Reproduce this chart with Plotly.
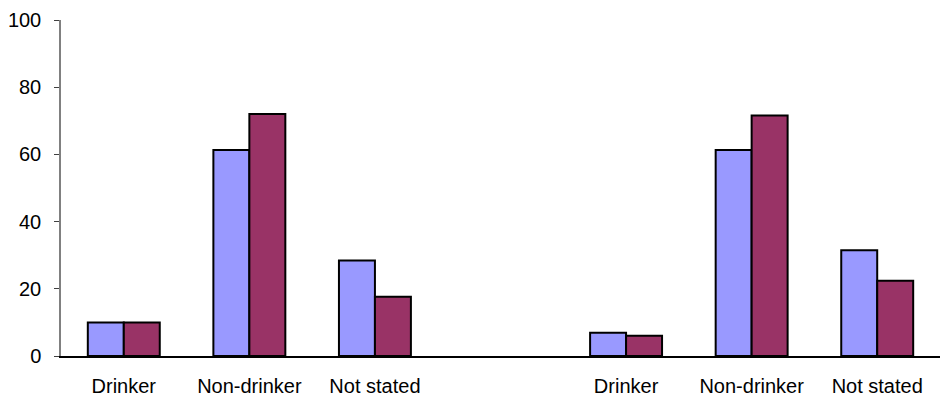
import plotly.graph_objects as go

# Drinking status, two panels of three categories each (percent)
categories = ["Drinker", "Non-drinker", "Not stated"]
panel_a_series1 = [10, 61.3, 28.4]
panel_a_series2 = [10, 72.0, 17.6]
panel_b_series1 = [6.9, 61.3, 31.5]
panel_b_series2 = [6.0, 71.6, 22.4]
y_ticks = [0, 20, 40, 60, 80, 100]

# Place the two panels side by side with one empty slot between them
n = len(categories)
positions = list(range(n)) + [n + 1 + i for i in range(n)]
labels = categories + categories
series1 = panel_a_series1 + panel_b_series1
series2 = panel_a_series2 + panel_b_series2

fig = go.Figure()
fig.add_trace(go.Bar(
    x=positions, y=series1, name="Series 1",
    marker=dict(color="#9999FF", line=dict(color="#000000", width=2)),
))
fig.add_trace(go.Bar(
    x=positions, y=series2, name="Series 2",
    marker=dict(color="#993366", line=dict(color="#000000", width=2)),
))

fig.update_layout(
    width=941, height=406,
    margin=dict(l=61, r=1, t=20, b=50),
    paper_bgcolor="white", plot_bgcolor="white",
    barmode="group", bargap=0.427, bargroupgap=0,
    showlegend=False,
    font=dict(family="Liberation Sans, Arial, sans-serif", size=20, color="#000000"),
)
fig.update_xaxes(
    range=[-0.5, 2 * n + 0.5],
    tickmode="array", tickvals=positions, ticktext=labels,
    showline=True, linecolor="#000000", linewidth=1.5,
    showgrid=False, zeroline=False, ticks="",
    ticklabelstandoff=11,
)
fig.update_yaxes(
    range=[0, 100],
    tickmode="array", tickvals=y_ticks,
    showline=True, linecolor="#808080", linewidth=1.5,
    showgrid=False, zeroline=False,
    ticks="outside", ticklen=5, tickcolor="#404040", tickwidth=1,
    ticklabelstandoff=9,
)

fig.write_html("out.html")
